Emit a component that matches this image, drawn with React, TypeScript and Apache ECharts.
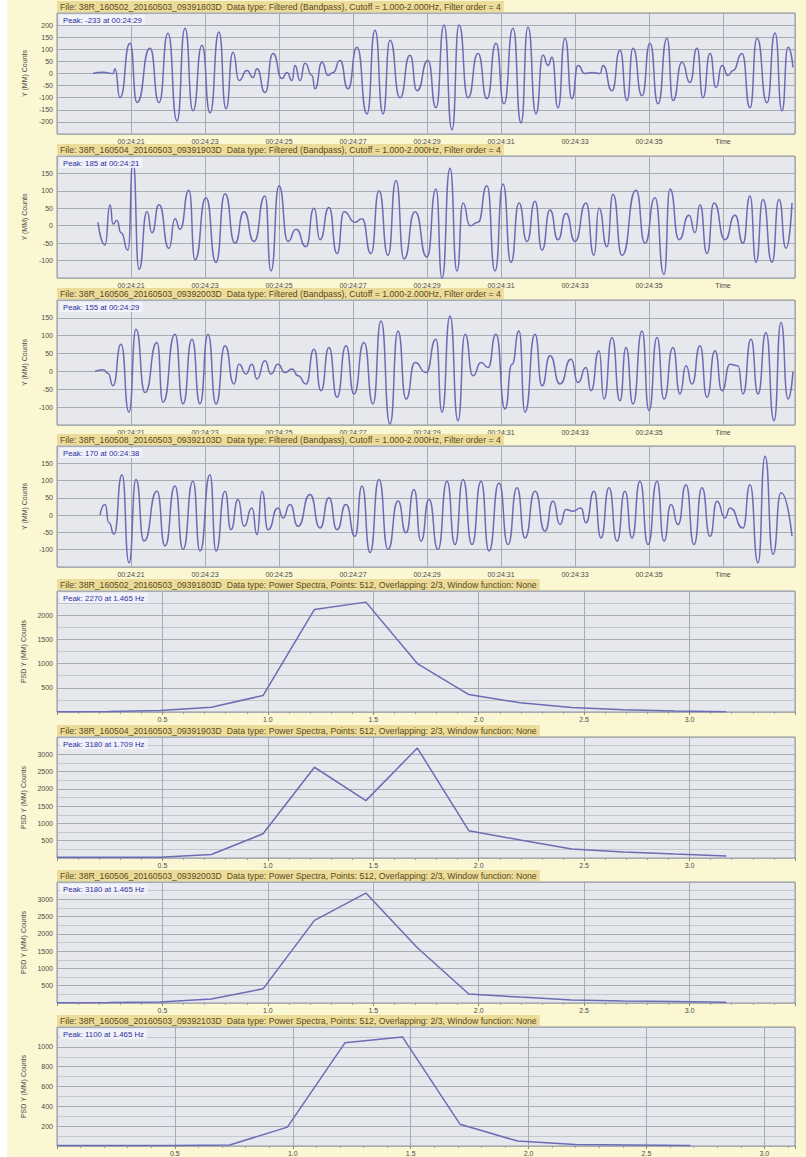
import React, { useEffect, useRef } from "react";
import * as echarts from "echarts";

// ---------- DATA ----------
// Waveforms: [sample index (37 samples / s, sample 0 = 00:24:19), counts]
const wave1: number[][] = [
  [36, 0], [46, 5], [56, 0], [58, 20], [63, -100], [73, 125], [80, -120], [93, 104], [102, -120], [111, 166],
  [120, -196], [128, 187], [136, -154], [145, 117], [153, -162], [162, 171], [169, -146], [176, 88], [182, -29], [190, 12],
  [196, -17], [200, 20], [208, -79], [216, 83], [225, -21], [230, 4], [235, -29], [238, 33], [243, -29], [248, 42],
  [255, -8], [258, -63], [265, 46], [271, -8], [276, 4], [283, 54], [291, -63], [300, 108], [310, -167], [318, 179],
  [326, -167], [333, 137], [343, -100], [353, 75], [360, -71], [371, 54], [379, -142], [387, 200], [395, -233], [402, 200],
  [411, -100], [421, 83], [430, -104], [439, 125], [447, -125], [456, 187], [464, -204], [471, 192], [479, -167], [486, 75],
  [491, 33], [495, 67], [501, -142], [508, 146], [515, -104], [521, 33], [528, 0], [535, 4], [543, 0], [546, 33],
  [555, -71], [563, 96], [570, -112], [576, 104], [585, -92], [593, 125], [601, -125], [610, 146], [616, -112], [625, 46],
  [633, -37], [640, 104], [646, -100], [653, 83], [659, -58], [665, 33], [671, -8], [676, 12], [685, 83], [693, -142],
  [700, 146], [710, -121], [718, 167], [725, -154], [731, 108], [736, 25],
];
const wave2: number[][] = [
  [41, 10], [48, -55], [53, 60], [56, 5], [60, 15], [64, -20], [71, -70], [76, 185], [82, -125], [90, 40],
  [95, -20], [102, 60], [112, -65], [118, 20], [123, -10], [132, 102], [138, -98], [149, 80], [159, -105], [168, 92],
  [178, -50], [187, 40], [197, -45], [208, 85], [214, -130], [222, 115], [231, -45], [239, -10], [249, -60], [257, 50],
  [263, -40], [272, 52], [280, -80], [287, 40], [298, 10], [305, 20], [314, -80], [322, 100], [331, -85], [339, 130],
  [347, -95], [358, 40], [370, -90], [379, 105], [385, -150], [393, 165], [400, -130], [406, 65], [413, 0], [421, 10],
  [430, 115], [438, -130], [446, 120], [454, -105], [462, 65], [470, -45], [478, 70], [485, -70], [493, 45], [501, -40],
  [509, 35], [518, -45], [529, 65], [537, -85], [542, 50], [550, -60], [556, 90], [565, -85], [579, 102], [588, -50],
  [598, 80], [607, -140], [613, 105], [622, -40], [632, 30], [638, -20], [643, 60], [650, -80], [657, 65], [668, -40],
  [678, 30], [686, -50], [693, 85], [699, -105], [706, 75], [715, -105], [722, 75], [729, -65], [735, 65],
];
const wave3: number[][] = [
  [38, 0], [46, 5], [51, -5], [56, -40], [64, 76], [72, -114], [79, 118], [88, -59], [100, 81], [106, -86],
  [118, 104], [126, -91], [135, 90], [143, -91], [151, 104], [159, -91], [168, 72], [177, -35], [182, 20], [189, -7],
  [195, 20], [200, -21], [208, 30], [214, -7], [221, 20], [228, -3], [235, 7], [241, -12], [249, -35], [257, 62],
  [264, -54], [272, 67], [280, -72], [289, 72], [297, -63], [307, 81], [316, -91], [324, 141], [333, -147], [341, 113],
  [349, -77], [358, 25], [369, -3], [379, 90], [385, -114], [393, 155], [401, -138], [408, 104], [416, -12], [424, 25],
  [431, 11], [439, 104], [448, -105], [455, 20], [462, 113], [468, -114], [478, 104], [485, -40], [493, 44], [503, -35],
  [514, 34], [521, -31], [529, 11], [534, -54], [542, 58], [547, -77], [555, 95], [563, -82], [569, 67], [576, -91],
  [585, 113], [592, -110], [600, 95], [607, -77], [616, 67], [623, -63], [629, 16], [635, -35], [643, 72], [650, -72],
  [658, 58], [665, -54], [673, 20], [681, 16], [686, -63], [694, 90], [701, -63], [709, 109], [717, -138], [724, 137],
  [731, -77], [736, 0],
];
const wave4: number[][] = [
  [43, 0], [48, 31], [52, -22], [57, -55], [65, 117], [72, -138], [79, 103], [87, -75], [100, 69], [108, -89],
  [118, 84], [126, -99], [136, 98], [143, -104], [153, 117], [159, -104], [168, 69], [174, -42], [181, 45], [187, -32],
  [195, 21], [200, -56], [205, 69], [211, -42], [221, 21], [226, -8], [233, 31], [241, -32], [253, 60], [263, -37],
  [272, 50], [280, -42], [289, 31], [298, -61], [305, 84], [313, -108], [322, 103], [331, -99], [341, 41], [349, -51],
  [357, 74], [364, -75], [372, 45], [381, -99], [390, 98], [398, -85], [406, 103], [415, -85], [424, 98], [432, -104],
  [442, 93], [451, -85], [460, 79], [468, -66], [478, 69], [488, -46], [496, 40], [503, -27], [509, 16], [516, 11],
  [524, 21], [529, -22], [537, 69], [544, -66], [552, 79], [560, -75], [568, 69], [575, -66], [583, 98], [591, -85],
  [600, 98], [607, -75], [614, 31], [621, -27], [629, 88], [637, -85], [645, 79], [653, -61], [660, 40], [668, -8],
  [673, 21], [686, -37], [693, 88], [701, -138], [708, 170], [716, -113], [724, 65], [735, -61],
];

// Power spectra: frequency bins (Hz) and PSD values
const FREQ_BINS = [0, 0.244, 0.488, 0.732, 0.977, 1.221, 1.465, 1.709, 1.953, 2.197, 2.441, 2.686, 2.93, 3.174];
const psd5 = [5, 10, 30, 100, 340, 2120, 2270, 1000, 360, 190, 95, 45, 20, 5];
const psd6 = [20, 20, 25, 100, 700, 2625, 1660, 3180, 790, 520, 260, 175, 115, 60];
const psd7 = [10, 15, 30, 115, 410, 2390, 3180, 1600, 260, 170, 90, 60, 40, 20];
const psd8 = [5, 5, 5, 10, 190, 1040, 1100, 220, 50, 15, 10, 5];

const WAVE_FILES = [
  "File: 38R_160502_20160503_09391803D",
  "File: 38R_160504_20160503_09391903D",
  "File: 38R_160506_20160503_09392003D",
  "File: 38R_160508_20160503_09392103D",
];
const SPEC_FILES = [
  "File: 38R_160502_20160503_09391803D",
  "File: 38R_160504_20160503_09391903D",
  "File: 38R_160506_20160503_09392003D",
  "File: 38R_160508_20160503_09392103D",
];
const WAVE_INFO = "  Data type: Filtered (Bandpass), Cutoff = 1.000-2.000Hz, Filter order = 4";
const SPEC_INFO = "  Data type: Power Spectra, Points: 512, Overlapping: 2/3, Window function: None";
const WAVE_YNAME = "Y (MM) Counts";
const SPEC_YNAME = "PSD Y (MM) Counts";

const SAMPLES_PER_SEC = 37;
const START_SEC = 19;

// ---------- HELPERS ----------
function timeLabel(sample: number) {
  const s = Math.floor(START_SEC + sample / SAMPLES_PER_SEC + 1e-6);
  return "00:24:" + String(s).padStart(2, "0");
}
function wavePeak(d: number[][]) {
  let best = d[0];
  for (const p of d) if (Math.abs(p[1]) > Math.abs(best[1])) best = p;
  return `Peak: ${best[1]} at ${timeLabel(best[0])}`;
}
function specPeak(v: number[]) {
  let bi = 0;
  v.forEach((x, i) => { if (x > v[bi]) bi = i; });
  return `Peak: ${v[bi]} at ${FREQ_BINS[bi].toFixed(3)} Hz`;
}

const LINE_COLOR = "#6c6cb4";
const PAGE_BG = "#fbf7d3";
const PLOT_BG = "#e6e8ee";
const GRID_LINE = "#a7abb2";
const FONT = "'Liberation Sans', Arial, sans-serif";

export default function App() {
  const ref = useRef<HTMLDivElement>(null);

  useEffect(() => {
    if (!ref.current) return;
    const chart = echarts.init(ref.current, undefined, { renderer: "svg" });

    const tops = [13, 156, 300, 446, 591, 737, 882, 1027];
    const heights = [121, 122, 125, 121, 121, 121, 121, 120];
    const waves = [wave1, wave2, wave3, wave4];
    const psds = [psd5, psd6, psd7, psd8];
    const waveY = [
      { min: -250, max: 250, interval: 50 },
      { min: -150, max: 200, interval: 50 },
      { min: -150, max: 200, interval: 50 },
      { min: -150, max: 200, interval: 50 },
    ];
    const specY = [
      { min: 0, max: 2500, interval: 500 },
      { min: 0, max: 3500, interval: 500 },
      { min: 0, max: 3500, interval: 500 },
      { min: 0, max: 1200, interval: 200 },
    ];
    const specXMax = [3.5, 3.5, 3.5, 3.13];

    const grid: any[] = [];
    const xAxis: any[] = [];
    const yAxis: any[] = [];
    const series: any[] = [];
    const title: any[] = [];

    const axisLabelStyle = { fontSize: 7, color: "#4b4b4b", fontFamily: FONT };
    const headStyle = { fontSize: 8.7, fontWeight: "normal", color: "#5b4a1c", fontFamily: FONT, lineHeight: 9 };
    const peakStyle = { fontSize: 7.8, fontWeight: "normal", color: "#2e2e9c", fontFamily: FONT, lineHeight: 8 };

    for (let i = 0; i < 8; i++) {
      const isWave = i < 4;
      grid.push({
        left: 57, right: 11, top: tops[i], height: heights[i],
        show: true, backgroundColor: PLOT_BG, borderColor: "#8f959d", borderWidth: 1,
      });
      if (isWave) {
        xAxis.push({
          type: "value", gridIndex: i, min: 0, max: 738, interval: 74,
          axisLine: { show: false },
          axisTick: { show: true, length: 3, lineStyle: { color: "#888" } },
          axisLabel: {
            ...axisLabelStyle, margin: 4, showMinLabel: false, showMaxLabel: false,
            formatter: (v: number) => (Math.round(v / 74) === 9 ? "Time" : timeLabel(v)),
          },
          splitLine: { show: true, lineStyle: { color: GRID_LINE, width: 1 } },
        });
        yAxis.push({
          type: "value", gridIndex: i, ...waveY[i],
          name: WAVE_YNAME, nameLocation: "middle", nameGap: 24, nameRotate: 90,
          nameTextStyle: { fontSize: 7, color: "#4b4b4b", fontFamily: FONT },
          axisLine: { show: false }, axisTick: { show: false },
          axisLabel: { ...axisLabelStyle, margin: 4, showMinLabel: false, showMaxLabel: false, formatter: (v: number) => String(v) },
          splitLine: { show: true, lineStyle: { color: GRID_LINE, width: 1 } },
        });
        series.push({
          type: "line", xAxisIndex: i, yAxisIndex: i, data: waves[i],
          showSymbol: false, smooth: 0.6, smoothMonotone: "x", silent: true,
          lineStyle: { color: LINE_COLOR, width: 1.5 },
        });
        title.push({
          text: WAVE_FILES[i] + WAVE_INFO, left: 57, top: tops[i] - 12,
          padding: [1, 3], backgroundColor: "#ebdc9a", textStyle: headStyle,
        });
        title.push({
          text: wavePeak(waves[i]), left: 60, top: tops[i] + 2,
          padding: [1, 3], backgroundColor: "rgba(243,245,252,0.85)", textStyle: peakStyle,
        });
      } else {
        const k = i - 4;
        xAxis.push({
          type: "value", gridIndex: i, min: 0, max: specXMax[k], interval: 0.5,
          axisLine: { show: false },
          axisTick: { show: true, length: 3, lineStyle: { color: "#888" } },
          minorTick: { show: true, splitNumber: 5, length: 2, lineStyle: { color: "#9aa0a8" } },
          axisLabel: {
            ...axisLabelStyle, margin: 4, showMinLabel: false, showMaxLabel: false,
            formatter: (v: number) => v.toFixed(1),
          },
          splitLine: { show: true, lineStyle: { color: GRID_LINE, width: 1 } },
        });
        yAxis.push({
          type: "value", gridIndex: i, ...specY[k],
          name: SPEC_YNAME, nameLocation: "middle", nameGap: 24, nameRotate: 90,
          nameTextStyle: { fontSize: 7, color: "#4b4b4b", fontFamily: FONT },
          axisLine: { show: false }, axisTick: { show: false },
          axisLabel: { ...axisLabelStyle, margin: 4, showMinLabel: false, showMaxLabel: false, formatter: (v: number) => String(v) },
          splitLine: { show: true, lineStyle: { color: GRID_LINE, width: 1 } },
          minorTick: { show: false, splitNumber: 2 },
          minorSplitLine: { show: true, lineStyle: { color: "#c4c7cd", width: 1 } },
        });
        series.push({
          type: "line", xAxisIndex: i, yAxisIndex: i,
          data: psds[k].map((v, j) => [FREQ_BINS[j], v]),
          showSymbol: false, silent: true,
          lineStyle: { color: LINE_COLOR, width: 1.5 },
        });
        title.push({
          text: SPEC_FILES[k] + SPEC_INFO, left: 57, top: tops[i] - 12,
          padding: [1, 3], backgroundColor: "#ebdc9a", textStyle: headStyle,
        });
        title.push({
          text: specPeak(psds[k]), left: 60, top: tops[i] + 2,
          padding: [1, 3], backgroundColor: "rgba(243,245,252,0.85)", textStyle: peakStyle,
        });
      }
    }

    chart.setOption({
      animation: false,
      backgroundColor: PAGE_BG,
      textStyle: { fontFamily: FONT },
      graphic: [
        { type: "rect", left: 0, top: 0, shape: { width: 7, height: 1157 }, style: { fill: "#ffffff" }, silent: true },
      ],
      title, grid, xAxis, yAxis, series,
    });

    return () => chart.dispose();
  }, []);

  return (
    <div
      ref={ref}
      style={{ position: "absolute", left: 0, top: 0, width: 806, height: 1157 }}
    />
  );
}
